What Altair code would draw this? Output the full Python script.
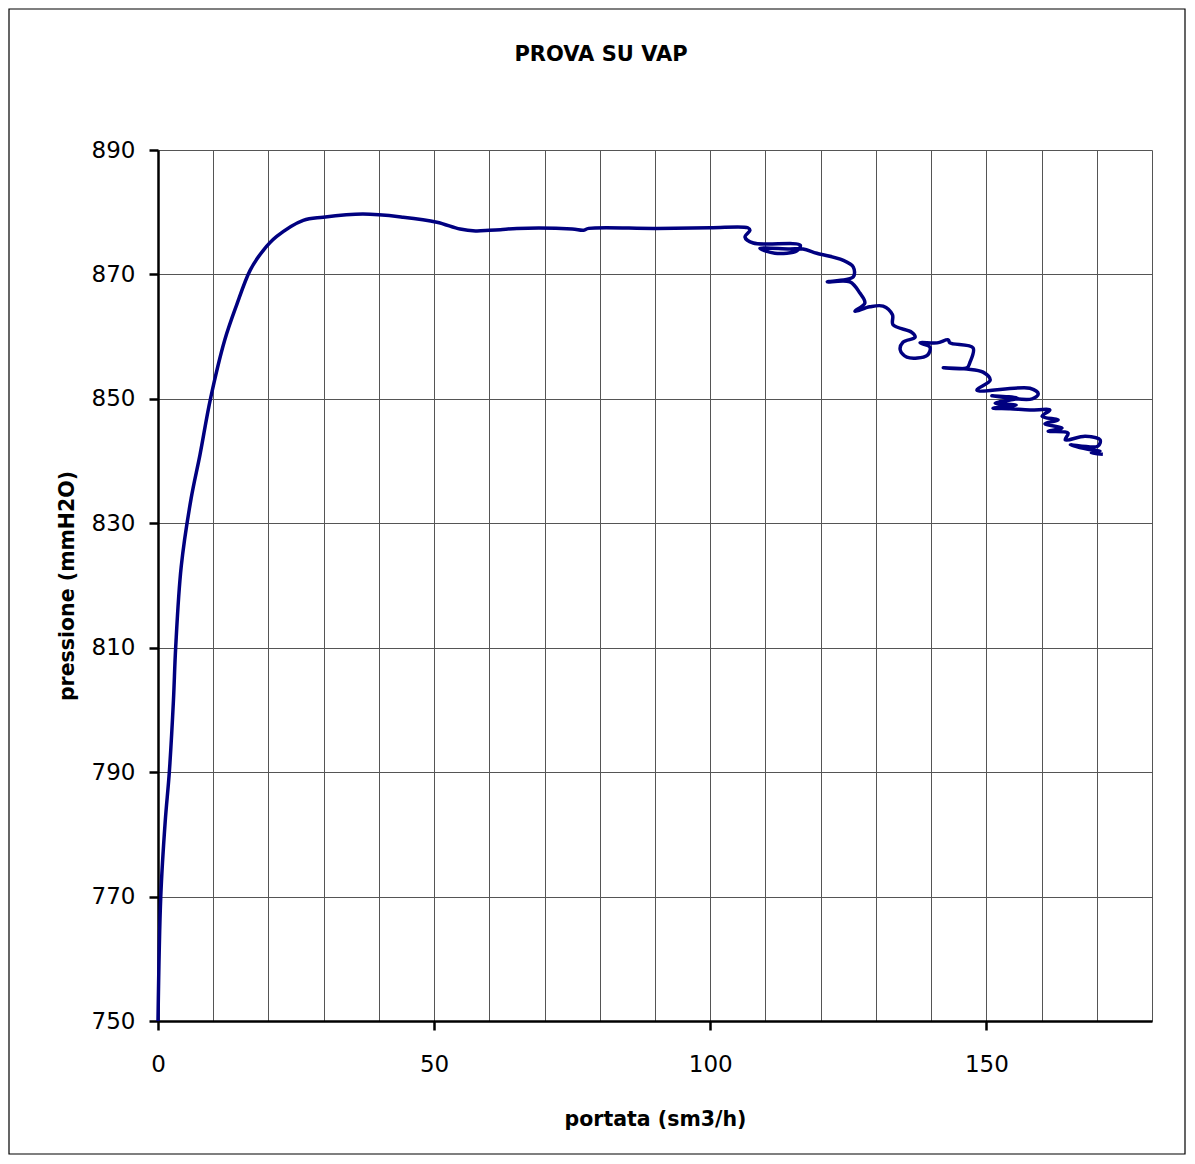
import altair as alt
import pandas as pd

# portata (sm3/h)
portata = [
    0, 0.5, 1.3, 2.05, 2.8, 3.2, 4.2, 6.0, 7.6, 9.5,
    12.1, 14.2, 16.7, 19.0, 21.5, 26.3, 29.9, 37.1, 44.4, 50.5,
    54.7, 57.5, 60, 62, 65, 75, 77, 78, 90, 100,
    106.8,
    107.2, 106.3, 107.8, 116.3, 115.7, 111.7, 109.0, 114.4, 116.8, 119.3,
    124.0, 125.9, 125.9, 121.2, 125.3, 127.1, 128.0, 126.2, 128.9, 131.3,
    133.0, 133.1, 136.5, 137.1, 134.9, 134.4, 135.6, 139.3, 139.8, 138.0,
    141.1, 143.1, 143.4, 147.6, 147.0, 146.5, 142.2, 146.5, 149.4, 150.7,
    148.3, 157.9, 159.4, 158.3, 151.0, 155.7, 151.6, 155.4, 151.2, 154.3,
    157.9, 161.5, 160.1, 163.0, 160.6, 163.7, 161.2, 164.8, 164.3, 167.9,
    170.6, 170.2, 165.2, 168.4, 170.6, 169.0, 171.1,
]
# pressione (mmH2O)
pressione = [
    750, 770, 782, 790, 801.6, 810, 823, 834, 841, 850,
    859.5, 865, 870.7, 873.8, 876.1, 878.7, 879.2, 879.7, 879.2, 878.4,
    877.3, 877.0, 877.1, 877.2, 877.4, 877.3, 877.1, 877.4, 877.4, 877.5,
    877.5,
    877.1, 876.0, 875.05, 874.7, 873.8, 873.4, 874.2, 874.1, 874.1, 873.4,
    872.3, 871.2, 869.6, 868.8, 868.8, 867.0, 865.4, 864.1, 864.8, 864.9,
    863.5, 861.9, 860.7, 859.9, 859.1, 857.9, 856.7, 857.0, 858.3, 859.0,
    859.0, 859.5, 859.0, 858.2, 855.8, 855.0, 855.0, 854.8, 854.3, 853.0,
    851.4, 851.7, 850.8, 850.0, 850.5, 850.1, 849.3, 849.0, 848.5, 848.4,
    848.2, 848.2, 847.2, 846.6, 846.0, 845.3, 844.8, 844.5, 843.4, 844.0,
    843.4, 842.4, 842.6, 841.9, 841.6, 841.3, 841.1,
]
x_ticks = list(range(0, 181, 10))
y_ticks = list(range(750, 891, 20))
chart_title = "PROVA SU VAP"

df = pd.DataFrame({"portata": portata, "pressione": pressione, "i": range(len(portata))})

FONT = "DejaVu Sans"
W, H = 994, 871

line = alt.Chart(df).mark_line(
    color="#000080", strokeWidth=3.5, strokeJoin="round", interpolate="catmull-rom"
).encode(
    x=alt.X(
        "portata:Q",
        scale=alt.Scale(domain=[0, 180], nice=False, zero=False),
        axis=alt.Axis(
            values=x_ticks,
            title="portata (sm3/h)",
            labelExpr="datum.value % 50 === 0 ? datum.label : ''",
            tickOpacity={"condition": {"test": "datum.value % 50 === 0", "value": 1}, "value": 0},
            tickSize=9,
            labelPadding=23,
            titlePadding=33,
            labelFlush=False,
        ),
    ),
    y=alt.Y(
        "pressione:Q",
        scale=alt.Scale(domain=[750, 890], nice=False, zero=False),
        axis=alt.Axis(
            values=y_ticks,
            title="pressione (mmH2O)",
            tickSize=9,
            labelPadding=14,
            titlePadding=14,
            labelFlush=False,
        ),
    ),
    order=alt.Order("i:Q"),
)

one = alt.Data(values=[{"t": chart_title}])

frame = alt.Chart(one).mark_rect(
    filled=False, stroke="black", strokeWidth=1.2
).encode(
    x=alt.value(-149), x2=alt.value(W + 33),
    y=alt.value(-141), y2=alt.value(H + 133),
)

title = alt.Chart(one).mark_text(
    font=FONT, fontSize=21, fontWeight="bold", color="black", align="center", baseline="middle"
).encode(
    text="t:N",
    x=alt.value(443),
    y=alt.value(-95),
)

chart = alt.layer(frame, title, line).properties(
    width=W,
    height=H,
    padding={"left": 150, "top": 142, "right": 35, "bottom": 134},
    autosize=alt.AutoSizeParams(type="none"),
).configure_axis(
    labelFont=FONT,
    labelFontSize=23,
    labelColor="black",
    titleFont=FONT,
    titleFontSize=20.5,
    titleFontWeight="bold",
    titleColor="black",
    domainColor="black",
    domainWidth=2.5,
    tickColor="black",
    tickWidth=2.5,
    grid=True,
    gridColor="#555555",
    gridWidth=1,
).configure_view(stroke="transparent")

chart.save("out.html", embed_options={"renderer": "svg", "actions": False})
